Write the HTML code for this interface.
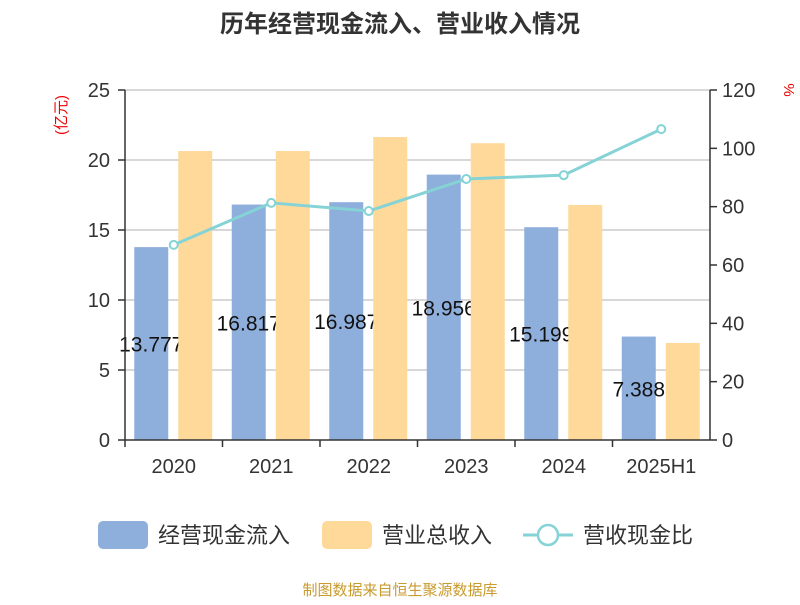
<!DOCTYPE html>
<html><head><meta charset="utf-8"><style>
body{margin:0;background:#fff;}
svg text{font-family:"Liberation Sans","Noto Sans CJK SC",sans-serif;}
</style></head><body>
<svg id="c" width="800" height="600" xmlns="http://www.w3.org/2000/svg">
<text x="400" y="32" text-anchor="middle" font-size="24" font-weight="bold" fill="#333">历年经营现金流入、营业收入情况</text>
<text x="66" y="115" font-size="15" fill="#e00" text-anchor="middle" transform="rotate(-90 66 115)">(亿元)</text>
<text x="784" y="90" font-size="15" fill="#e00" text-anchor="middle" transform="rotate(90 784 90)">%</text>
<g id="grid"></g><g id="bars"></g><g id="labels"></g><g id="bars2"></g><g id="line"></g><g id="axes"></g>
<g>
<rect x="98" y="521" width="50" height="28" rx="5" fill="#8eaedb"/>
<text x="158" y="543" font-size="22" fill="#333">经营现金流入</text>
<rect x="322" y="521" width="50" height="28" rx="5" fill="#ffd99a"/>
<text x="382" y="543" font-size="22" fill="#333">营业总收入</text>
<line x1="523" y1="535" x2="573" y2="535" stroke="#85d3d6" stroke-width="3"/>
<circle cx="548" cy="535" r="10" fill="#fff" stroke="#85d3d6" stroke-width="2.5"/>
<text x="583" y="543" font-size="22" fill="#333">营收现金比</text>
</g>
<text x="400" y="595" text-anchor="middle" font-size="15" fill="#c99a2e">制图数据来自恒生聚源数据库</text>
</svg>
<script>
const categories=["2020","2021","2022","2023","2024","2025H1"];
const cashIn=[13.777,16.817,16.987,18.956,15.199,7.388];
const revenue=[20.64,20.64,21.64,21.2,16.79,6.93];
const ratio=[66.9,81.3,78.5,89.5,90.8,106.6];
const leftTicks=[0,5,10,15,20,25];
const rightTicks=[0,20,40,60,80,100,120];
const NS="http://www.w3.org/2000/svg";
const X0=125,X1=710,Y0=440,Y1=90;
const bw=(X1-X0)/categories.length;
const yL=v=>Y0-(v/25)*(Y0-Y1);
const yR=v=>Y0-(v/120)*(Y0-Y1);
const xc=i=>X0+bw*(i+0.5);
function mk(tag,attrs,parent,txt){const e=document.createElementNS(NS,tag);for(const k in attrs)e.setAttribute(k,attrs[k]);if(txt!==undefined)e.textContent=txt;document.getElementById(parent).appendChild(e);return e;}
leftTicks.forEach(t=>{
  if(t>0){const g=mk('line',{x1:X0,x2:X1,y1:yL(t),y2:yL(t),stroke:'#ccc','stroke-width':1.5},'grid');
  
  }
  const tk=mk('line',{x1:X0-7,x2:X0,y1:yL(t),y2:yL(t),stroke:'#333','stroke-width':1.5},'axes');
  
  
  const l=mk('text',{x:X0-15,y:yL(t)+7,'text-anchor':'end','font-size':20,fill:'#333'},'axes',String(t));
  
  
});
rightTicks.forEach(t=>{
  const tk=mk('line',{x1:X1,x2:X1+7,y1:yR(t),y2:yR(t),stroke:'#333','stroke-width':1.5},'axes');
  
  
  const l=mk('text',{x:X1+12,y:yR(t)+7,'font-size':20,fill:'#333'},'axes',String(t));
  
  
});
let a=mk('line',{x1:X0,x2:X0,y1:Y1,y2:Y0,stroke:'#333','stroke-width':1.5},'axes');


a=mk('line',{x1:X1,x2:X1,y1:Y1,y2:Y0,stroke:'#333','stroke-width':1.5},'axes');


a=mk('line',{x1:X0,x2:X1,y1:Y0,y2:Y0,stroke:'#333','stroke-width':1.5},'axes');


categories.forEach((c,i)=>{
  const tk=mk('line',{x1:X0+bw*i,x2:X0+bw*i,y1:Y0,y2:Y0+7,stroke:'#333','stroke-width':1.5},'axes');
  
  
  const l=mk('text',{x:xc(i),y:Y0+33,'text-anchor':'middle','font-size':20,fill:'#333'},'axes',c);
  
  
  const cx=xc(i);
  const b=mk('rect',{x:cx-39.5,y:yL(cashIn[i]),width:34,height:Y0-yL(cashIn[i]),fill:'#8eaedb'},'bars');
  
  
  const t=mk('text',{x:cx-22.5,y:(yL(cashIn[i])+Y0)/2+8,'text-anchor':'middle','font-size':21,fill:'#111'},'labels',cashIn[i].toFixed(3));
  
  
  const r=mk('rect',{x:cx+4.5,y:yL(revenue[i]),width:34,height:Y0-yL(revenue[i]),fill:'#ffd99a'},'bars2');
  
  
});
const pl=mk('polyline',{points:ratio.map((v,i)=>xc(i)+','+yR(v)).join(' '),fill:'none',stroke:'#85d3d6','stroke-width':3},'line');


ratio.forEach((v,i)=>{
  const p=mk('circle',{cx:xc(i),cy:yR(v),r:4,fill:'#fff',stroke:'#85d3d6','stroke-width':2},'line');
  
  
});
</script>
</body></html>
